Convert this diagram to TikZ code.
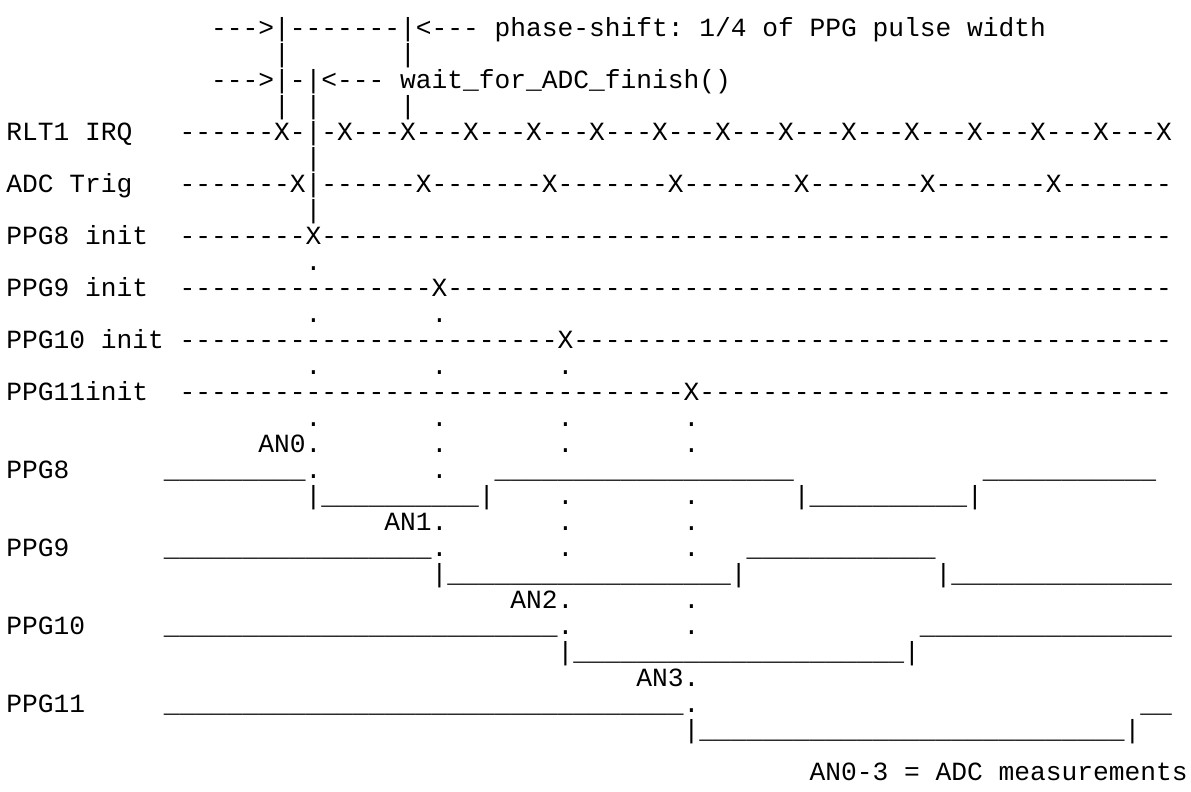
\documentclass[tikz,border=0pt]{standalone}
\usepackage{fontspec}
\setmonofont{Liberation Mono}
\frenchspacing
\ExplSyntaxOn
\NewDocumentCommand\rpt{mm}{\prg_replicate:nn{#1}{#2}}
\ExplSyntaxOff

\begin{document}
\begin{tikzpicture}[
    x = 15.75pt, y = -26pt,
    every node/.style = {inner sep=0pt, outer sep=0pt, anchor=base west,
                         font=\ttfamily\fontsize{26.25}{26}\selectfont}
    ]
  \useasboundingbox (-0.406,-0.404) rectangle (75.21,30.02);

  % header notes ---------------------------------------------
  \node (phase)   at (13,1)  {--->|-------|<--- phase-shift: 1/4 of PPG pulse width};
  \node (bar2a)   at (17,2)  {|};
  \node (bar2b)   at (25,2)  {|};
  \node (wait)    at (13,3)  {--->|-|<--- wait\_for\_ADC\_finish()};
  \node (bar4a)   at (17,4)  {| |};
  \node (bar4b)   at (25,4)  {|};

  % trigger rows ---------------------------------------------
  \node (irq)     at (0,5)   {RLT1 IRQ};
  \node (irqrow)  at (11,5)  {------X-|-X\rpt{13}{---X}};
  \node (bar6)    at (19,6)  {|};
  \node (trig)    at (0,7)   {ADC Trig};
  \node (trigrow) at (11,7)  {-------X|------X\rpt{5}{-------X}-------};
  \node (bar8)    at (19,8)  {|};
  \node (ini8)    at (0,9)   {PPG8 init};
  \node (ini8row) at (11,9)  {\rpt{8}{-}X\rpt{54}{-}};
  \node (dot10)   at (19,10) {.};
  \node (ini9)    at (0,11)  {PPG9 init};
  \node (ini9row) at (11,11) {\rpt{16}{-}X\rpt{46}{-}};
  \node (dot12a)  at (19,12) {.};
  \node (dot12b)  at (27,12) {.};
  \node (ini10)   at (0,13)  {PPG10 init};
  \node (ini10row) at (11,13) {\rpt{24}{-}X\rpt{38}{-}};
  \node (dot14a)  at (19,14) {.};
  \node (dot14b)  at (27,14) {.};
  \node (dot14c)  at (35,14) {.};
  \node (ini11)   at (0,15)  {PPG11init};
  \node (ini11row) at (11,15) {\rpt{32}{-}X\rpt{30}{-}};
  \node (dot16a)  at (19,16) {.};
  \node (dot16b)  at (27,16) {.};
  \node (dot16c)  at (35,16) {.};
  \node (dot16d)  at (43,16) {.};

  % PPG8 -----------------------------------------------------
  \node (an0)     at (16,17) {AN0.};
  \node (dot17b)  at (27,17) {.};
  \node (dot17c)  at (35,17) {.};
  \node (dot17d)  at (43,17) {.};
  \node (ppg8)    at (0,18)  {PPG8};
  \node (hi8a)    at (10,18) {\rpt{9}{\_}.};
  \node (dot18b)  at (27,18) {.};
  \node (hi8b)    at (31,18) {\rpt{19}{\_}};
  \node (hi8c)    at (62,18) {\rpt{11}{\_}};
  \node (lo8a)    at (19,19) {|\rpt{10}{\_}|};
  \node (dot19c)  at (35,19) {.};
  \node (dot19d)  at (43,19) {.};
  \node (lo8b)    at (50,19) {|\rpt{10}{\_}|};

  % PPG9 -----------------------------------------------------
  \node (an1)     at (24,20) {AN1.};
  \node (dot20c)  at (35,20) {.};
  \node (dot20d)  at (43,20) {.};
  \node (ppg9)    at (0,21)  {PPG9};
  \node (hi9a)    at (10,21) {\rpt{17}{\_}.};
  \node (dot21c)  at (35,21) {.};
  \node (dot21d)  at (43,21) {.};
  \node (hi9b)    at (47,21) {\rpt{12}{\_}};
  \node (lo9a)    at (27,22) {|\rpt{18}{\_}|};
  \node (lo9b)    at (59,22) {|\rpt{14}{\_}};

  % PPG10 ----------------------------------------------------
  \node (an2)     at (32,23) {AN2.};
  \node (dot23d)  at (43,23) {.};
  \node (ppg10)   at (0,24)  {PPG10};
  \node (hi10a)   at (10,24) {\rpt{25}{\_}.};
  \node (dot24d)  at (43,24) {.};
  \node (hi10b)   at (58,24) {\rpt{16}{\_}};
  \node (lo10)    at (35,25) {|\rpt{21}{\_}|};

  % PPG11 ----------------------------------------------------
  \node (an3)     at (40,26) {AN3.};
  \node (ppg11)   at (0,27)  {PPG11};
  \node (hi11a)   at (10,27) {\rpt{33}{\_}.};
  \node (hi11b)   at (72,27) {\_\_};
  \node (lo11)    at (43,28) {|\rpt{27}{\_}|};

  \node (legend)  at (51,29.6) {AN0-3 = ADC measurements};
\end{tikzpicture}
\end{document}
